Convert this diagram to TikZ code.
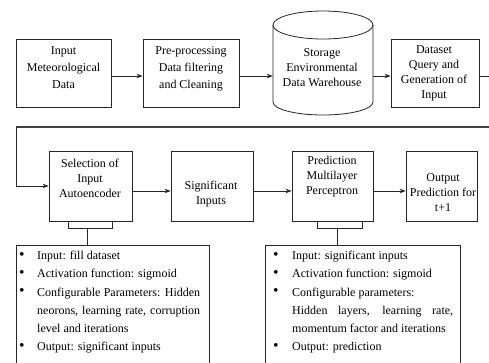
\documentclass[tikz,border=0pt]{standalone}
\usepackage{fontspec}
\setmainfont{Liberation Serif}
\usetikzlibrary{arrows.meta}
\newcommand{\mybul}{\raisebox{0.2pt}{\scalebox{1.3}{•}}}
\begin{document}
\begin{tikzpicture}[x=1pt,y=-1pt,
  blk/.style={draw=black!85, line width=0.8pt, inner sep=0pt},
  txt/.style={align=center, inner sep=0pt, font=\fontsize{12}{15}\selectfont},
  txtb/.style={align=center, inner sep=0pt, font=\fontsize{12}{17}\selectfont},
  conn/.style={draw=black!85, line width=0.8pt, -{Stealth[length=6pt,width=4.5pt]}},
  ln/.style={draw=black!85, line width=0.8pt},
  bigln/.style={draw=black!75, line width=1.6pt},
  lst/.style={anchor=north west, inner sep=0pt, font=\fontsize{12}{18.2}\selectfont}]
\clip (0,0) rectangle (489,362);
\fill[white] (0,0) rectangle (489,362);
% row 1
\node[blk, minimum width=95pt, minimum height=68pt] (inp) at (63.5,73) {};
\node[txtb] (inpt) at ([yshift=5pt]inp.center) {Input\\Meteorological\\Data};
\node[blk, minimum width=96pt, minimum height=68pt] (pre) at (191,73) {};
\node[txtb] (pret) at ([yshift=4pt]pre.center) {Pre-processing\\Data filtering\\and Cleaning};
% cylinder
\node[inner sep=0pt, minimum width=100pt, minimum height=90pt] (cyl) at (323,70) {};
\draw[ln] (273,25) -- (273,102) arc[start angle=180, end angle=360, x radius=50pt, y radius=13pt] -- (373,25);
\draw[ln] (323,25) ellipse [x radius=50pt, y radius=14pt];
\node[txt] (cylt) at (322,68) {Storage\\Environmental\\Data Warehouse};
\node[blk, minimum width=88pt, minimum height=68pt] (data) at (435,73) {};
\node[txt] (datat) at (434,73.5) {Dataset\\Query and\\Generation of\\Input};
\draw[conn] ([yshift=-3pt]inp.east) -- ([yshift=-3pt]pre.west);
\draw[conn] ([yshift=-3pt]pre.east) -- (cyl.west |- 0,76);
\draw[conn] (cyl.east |- 0,76) -- ([yshift=-3pt]data.west);
% feedback
\coordinate (f1) at (493,76);
\coordinate (f2) at (493,127);
\coordinate (f3) at (16,127);
\draw[ln] ([yshift=-3pt]data.east) -- (f1);
\draw[bigln] (f1) -- (f2) -- (f3);
% row 2
\node[blk, minimum width=83pt, minimum height=70pt] (sel) at (90.5,186) {};
\node[txt] (selt) at (90,178) {Selection of\\Input\\Autoencoder};
\node[blk, minimum width=82pt, minimum height=70pt] (sig) at (212,186) {};
\node[txt] (sigt) at (211,194.5) {Significant\\Inputs};
\node[blk, minimum width=81pt, minimum height=70pt] (pred) at (332.5,186) {};
\node[txt] (predt) at (332,177) {Prediction\\Multilayer\\Perceptron};
\node[blk, minimum width=71pt, minimum height=70pt] (out) at (441.5,186) {};
\node[txt] (outt) at (443,193) {Output\\Prediction for\\t+1};
\draw[conn] (f3) |- (sel.west);
\draw[conn] ([yshift=-5pt]sel.east) -- ([yshift=-5pt]sig.west);
\draw[conn] ([yshift=-5pt]sig.east) -- ([yshift=-5pt]pred.west);
\draw[conn] ([yshift=-5pt]pred.east) -- ([yshift=-5pt]out.west);
% list boxes
\node[blk, minimum width=193pt, minimum height=130pt] (l1) at (112.5,310) {};
\node[blk, minimum width=195pt, minimum height=130pt] (l2) at (362.5,310) {};
% brackets
\coordinate (b1) at (87,228);
\coordinate (b2) at (337,228);
\draw[ln] (68,221) -- (68,228) -- (112,228) -- (112,221);
\draw[ln] (b1) -- (b1 |- l1.north);
\draw[ln] (317,221) -- (317,228) -- (362,228) -- (362,221);
\draw[ln] (b2) -- (b2 |- l2.north);
% list texts
\node[lst] (l1t) at (19,246.7) {\begin{tabular}{@{}p{18pt}@{}l@{}}
\mybul&Input: fill dataset\\
\mybul&Activation function: sigmoid\\
\mybul&\makebox[163pt][s]{Configurable Parameters: Hidden}\\
&\makebox[163pt][s]{neorons, learning rate, corruption}\\
&level and iterations\\
\mybul&Output: significant inputs
\end{tabular}};
\node[lst] (l2t) at (273,246.7) {\begin{tabular}{@{}p{19pt}@{}l@{}}
\mybul&Input: significant inputs\\
\mybul&Activation function: sigmoid\\
\mybul&Configurable parameters:\\
&\makebox[161pt][s]{Hidden layers, learning rate,}\\
&momentum factor and iterations\\
\mybul&Output: prediction
\end{tabular}};
\end{tikzpicture}
\end{document}
